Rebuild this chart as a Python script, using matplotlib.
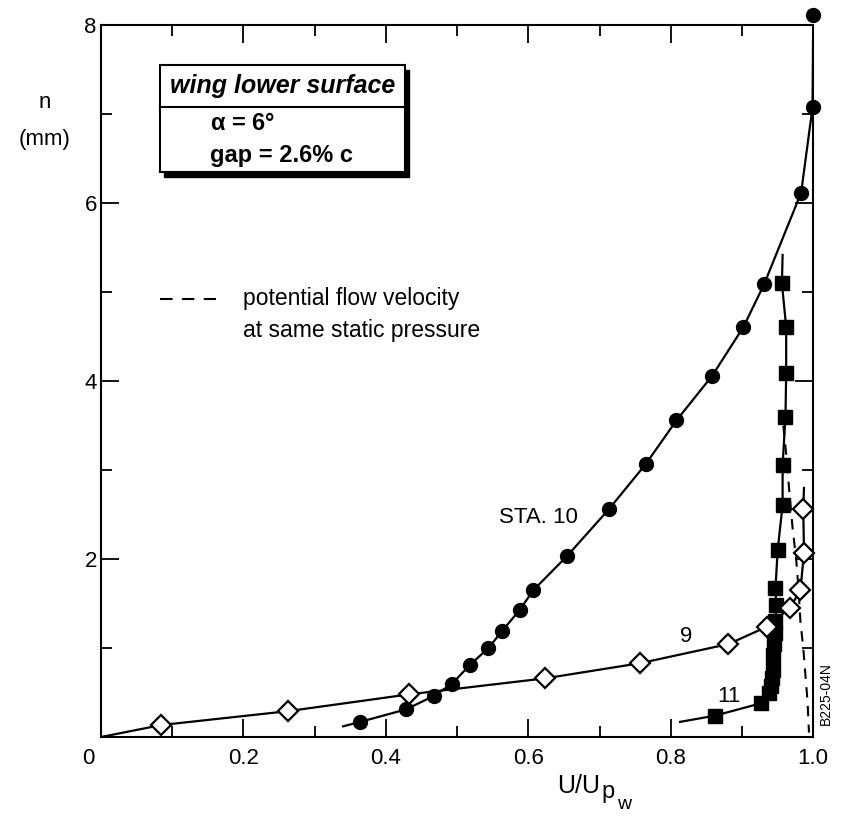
import matplotlib
matplotlib.use("Agg")
import matplotlib.pyplot as plt
from matplotlib.patches import Rectangle
from matplotlib.transforms import ScaledTranslation

plt.rcParams['font.family'] = ['Liberation Sans', 'DejaVu Sans']
plt.rcParams['mathtext.default'] = 'regular'

# STA. 10 (filled circles)
sta10_u = [0.364, 0.428, 0.467, 0.493, 0.518, 0.544, 0.563, 0.588, 0.607, 0.655,
           0.713, 0.765, 0.808, 0.858, 0.902, 0.931, 0.983, 0.999, 1.0]
sta10_n = [0.17, 0.31, 0.46, 0.60, 0.81, 1.00, 1.19, 1.43, 1.65, 2.04,
           2.56, 3.07, 3.56, 4.06, 4.61, 5.09, 6.12, 7.08, 8.12]
sta10_start = (0.34, 0.12)

# STA. 9 (open diamonds)
sta9_u = [0.085, 0.262, 0.433, 0.624, 0.757, 0.881, 0.935, 0.967, 0.982, 0.987, 0.986]
sta9_n = [0.135, 0.29, 0.48, 0.66, 0.83, 1.045, 1.24, 1.45, 1.65, 2.07, 2.56]
sta9_start = (0.0, 0.0)
sta9_end = (0.987, 2.8)

# STA. 11 (filled squares)
sta11_u = [0.862, 0.927, 0.938, 0.940, 0.942, 0.943, 0.944, 0.945, 0.946, 0.947,
           0.948, 0.947, 0.950, 0.957, 0.957, 0.961, 0.962, 0.962, 0.956]
sta11_n = [0.24, 0.38, 0.50, 0.57, 0.66, 0.75, 0.92, 1.05, 1.17, 1.30,
           1.48, 1.67, 2.10, 2.61, 3.06, 3.60, 4.09, 4.61, 5.10]
sta11_start = (0.813, 0.17)
sta11_end = (0.957, 5.42)

# potential flow velocity at same static pressure (dashed)
pot_u = [0.958, 0.963, 0.967, 0.971, 0.976, 0.979, 0.982, 0.986, 0.989, 0.992, 0.994]
pot_n = [3.50, 3.10, 2.70, 2.35, 2.00, 1.70, 1.30, 1.00, 0.70, 0.40, 0.05]

x_major = [0, 0.2, 0.4, 0.6, 0.8, 1.0]
x_minor = [0.1, 0.3, 0.5, 0.7, 0.9]
y_major = [2, 4, 6, 8]
y_minor = [1, 3, 5, 7]

fig = plt.figure(figsize=(8.41, 8.16), dpi=100)
ax = fig.add_axes([0.120, 0.0968, 0.847, 0.872])

lw = 1.6
# curves
ax.plot([sta10_start[0]] + sta10_u, [sta10_start[1]] + sta10_n, color='black', lw=lw, zorder=2)
ax.plot([sta9_start[0]] + sta9_u + [sta9_end[0]], [sta9_start[1]] + sta9_n + [sta9_end[1]],
        color='black', lw=lw, zorder=2)
ax.plot([sta11_start[0]] + sta11_u + [sta11_end[0]], [sta11_start[1]] + sta11_n + [sta11_end[1]],
        color='black', lw=lw, zorder=2)
ax.plot(pot_u, pot_n, color='black', lw=1.5, ls=(0, (5, 4)), zorder=2)

# markers
ax.plot(sta10_u, sta10_n, 'o', color='black', ms=10, zorder=4, clip_on=False)
ax.plot(sta9_u, sta9_n, 'D', mfc='white', mec='black', mew=1.6, ms=10, zorder=4, clip_on=False)
ax.plot(sta11_u, sta11_n, 's', color='black', ms=9.5, zorder=3, clip_on=False)

# station labels
ax.text(0.670, 2.47, 'STA. 10', fontsize=16, ha='right', va='center')
ax.text(0.822, 1.13, '9', fontsize=16, ha='center', va='center')
ax.text(0.881, 0.45, '11', fontsize=16, ha='center', va='center')

# axes
ax.set_xlim(0, 1.0)
ax.set_ylim(0, 8)
ax.set_xticks(x_major)
ax.set_xticklabels(['0', '0.2', '0.4', '0.6', '0.8', '1.0'])
ax.set_xticks(x_minor, minor=True)
ax.set_yticks(y_major)
ax.set_yticks(y_minor, minor=True)
ax.tick_params(which='both', direction='in', top=True, right=True, labelsize=16, width=1.3)
ax.tick_params(which='major', length=13, pad=8)
ax.tick_params(axis='y', which='major', pad=3)
ax.tick_params(which='minor', length=8)
for s in ax.spines.values():
    s.set_linewidth(1.5)

# shift the "0" a little left like the original
lab0 = ax.get_xticklabels()[0]
lab0.set_transform(lab0.get_transform() + ScaledTranslation(-13 / 100, 0, fig.dpi_scale_trans))

# x label U/U_p_w built from pieces (stacked subscripts)
W, H = 841, 816
fig.text(557 / W, 1 - 793 / H, 'U/U', fontsize=18, ha='left', va='baseline')
fig.text(601 / W, 1 - 798 / H, 'p', fontsize=17, ha='left', va='baseline')
fig.text(617 / W, 1 - 809 / H, 'w', fontsize=14, ha='left', va='baseline')

fig.text(45 / W, 1 - 103 / H, 'n', fontsize=16, ha='center', va='center')
fig.text(45 / W, 1 - 139 / H, '(mm)', fontsize=16, ha='center', va='center')

# info box with shadow
bx0, bx1, by0, by1 = 0.083, 0.427, 6.35, 7.55
ax.add_patch(Rectangle((bx0 + 0.006, by0 - 0.05), bx1 - bx0, by1 - by0, facecolor='black',
                       edgecolor='black', zorder=5))
ax.add_patch(Rectangle((bx0, by0), bx1 - bx0, by1 - by0, facecolor='white',
                       edgecolor='black', lw=1.5, zorder=6))
ax.plot([bx0, bx1], [7.08, 7.08], color='black', lw=1.5, zorder=7)
ax.text((bx0 + bx1) / 2, 7.32, 'wing lower surface', fontsize=18, fontweight='bold',
        fontstyle='italic', ha='center', va='center', zorder=7)
ax.text(0.153, 6.90, r'$\alpha$ = 6°', fontsize=17, fontweight='bold', ha='left', va='center', zorder=7)
ax.text(0.153, 6.54, 'gap = 2.6% c', fontsize=17, fontweight='bold', ha='left', va='center', zorder=7)

# dashed-line key
ax.plot([0.083, 0.162], [4.93, 4.93], color='black', lw=1.5, ls=(0, (6, 4.5)))
ax.text(0.199, 4.93, 'potential flow velocity', fontsize=16.5, ha='left', va='center')
ax.text(0.199, 4.57, 'at same static pressure', fontsize=16.5, ha='left', va='center')

fig.text(826 / W, 1 - 694 / H, 'B225-04N', fontsize=10, rotation=90, ha='center', va='center')

fig.savefig('out.png', dpi=100)
